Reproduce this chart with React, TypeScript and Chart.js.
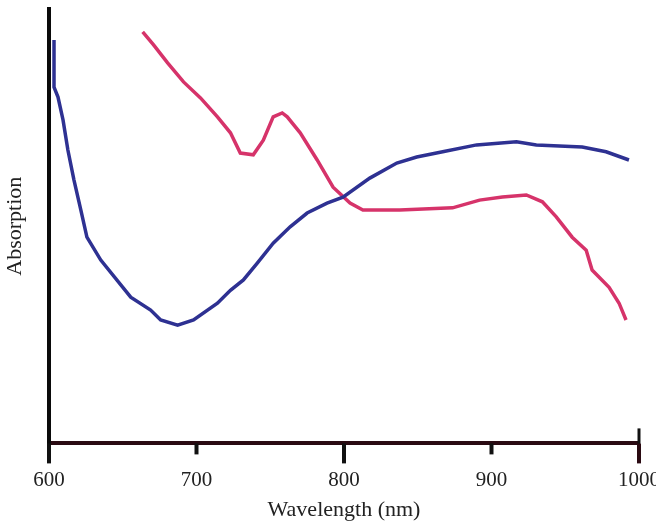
import React, { useEffect, useRef } from "react";
import { Chart, registerables } from "chart.js";

Chart.register(...registerables);

const xTickValues = [600, 700, 800, 900, 1000];
const longTicks = [600, 800, 1000];

const blueWavelength = [603.4, 603.4, 606.1, 609.5, 612.8, 616.9, 621.6, 625.7, 635.1, 655.4, 668.9, 675.7, 687.2, 698.0, 714.2, 723.0, 731.8, 741.2, 752.0, 763.5, 775.0, 788.5, 799.3, 817.5, 835.8, 849.3, 866.9, 889.9, 916.9, 930.4, 961.5, 977.7, 993.2];
const blueAbsorption = [93.0, 82.1, 79.8, 74.5, 67.5, 60.6, 53.6, 47.3, 42.0, 33.4, 30.4, 28.1, 26.9, 28.1, 32.0, 35.0, 37.4, 41.3, 45.9, 49.7, 52.9, 55.2, 56.6, 61.0, 64.5, 65.9, 67.1, 68.7, 69.4, 68.7, 68.2, 67.1, 65.2];

const redWavelength = [663.5, 670.9, 680.4, 691.2, 702.7, 714.2, 723.0, 729.7, 738.5, 745.3, 752.0, 758.1, 761.5, 770.3, 781.8, 792.6, 804.1, 812.8, 837.8, 873.6, 891.9, 907.4, 923.6, 934.5, 943.9, 954.7, 964.2, 968.2, 979.7, 986.5, 991.2];
const redAbsorption = [94.9, 91.9, 87.7, 83.3, 79.6, 75.2, 71.5, 66.8, 66.4, 69.8, 75.2, 76.1, 75.2, 71.5, 65.2, 58.9, 55.2, 53.6, 53.6, 54.1, 55.9, 56.6, 57.1, 55.5, 52.0, 47.3, 44.3, 39.7, 35.7, 32.0, 28.1];

const SERIF = "'Liberation Serif', 'Times New Roman', serif";

const axisTicksPlugin = {
  id: "axisTicks",
  afterDraw(chart: any) {
    const ctx = chart.ctx;
    const xs = chart.scales.x;
    const bottom = chart.chartArea.bottom;
    ctx.save();
    ctx.lineCap = "butt";
    xTickValues.forEach((v) => {
      const px = xs.getPixelForValue(v);
      const long = longTicks.includes(v);
      ctx.strokeStyle = v === 1000 ? "#2a0a12" : "#111111";
      ctx.lineWidth = 4;
      ctx.beginPath();
      ctx.moveTo(px, bottom);
      ctx.lineTo(px, bottom + (long ? 20 : 11));
      ctx.stroke();
    });
    const pEnd = xs.getPixelForValue(1000);
    ctx.strokeStyle = "#111111";
    ctx.lineWidth = 3;
    ctx.beginPath();
    ctx.moveTo(pEnd, bottom);
    ctx.lineTo(pEnd, bottom - 15);
    ctx.stroke();
    ctx.restore();
  },
};

export default function App() {
  const ref = useRef<HTMLCanvasElement | null>(null);
  useEffect(() => {
    document.body.style.margin = "0";
    const canvas = ref.current;
    if (!canvas) return;
    const chart = new Chart(canvas, {
      type: "line",
      data: {
        datasets: [
          {
            label: "Blue",
            data: blueWavelength.map((x, i) => ({ x, y: blueAbsorption[i] })),
            borderColor: "#2e3192",
            borderWidth: 3.5,
            pointRadius: 0,
            tension: 0,
          },
          {
            label: "Red",
            data: redWavelength.map((x, i) => ({ x, y: redAbsorption[i] })),
            borderColor: "#d6336a",
            borderWidth: 3.5,
            pointRadius: 0,
            tension: 0,
          },
        ],
      },
      options: {
        responsive: false,
        animation: false,
        devicePixelRatio: 1,
        layout: { padding: { top: 9, right: 17, bottom: 0, left: 0 } },
        plugins: { legend: { display: false }, tooltip: { enabled: false } },
        scales: {
          x: {
            type: "linear",
            min: 600,
            max: 1000,
            afterBuildTicks: (scale: any) => {
              scale.ticks = xTickValues.map((v) => ({ value: v }));
            },
            afterFit: (scale: any) => {
              scale.paddingLeft = 0;
              scale.paddingRight = 0;
            },
            ticks: {
              color: "#222222",
              font: { family: SERIF, size: 21 },
              padding: 4,
              maxRotation: 0,
              autoSkip: false,
              callback: (value: any) => String(value),
            },
            grid: {
              display: true,
              drawOnChartArea: false,
              drawTicks: true,
              tickLength: 20,
              tickColor: "rgba(0,0,0,0)",
            },
            border: { display: true, color: "#2a0a12", width: 4 },
            title: {
              display: true,
              text: "Wavelength (nm)",
              color: "#222222",
              font: { family: SERIF, size: 22 },
              padding: { top: 0, bottom: 0 },
            },
          },
          y: {
            type: "linear",
            min: -0.5,
            max: 100.2,
            ticks: { display: false },
            grid: { display: true, drawOnChartArea: false, drawTicks: false },
            border: { display: true, color: "#0a0a0a", width: 4 },
            title: {
              display: true,
              text: "Absorption",
              color: "#222222",
              font: { family: SERIF, size: 22 },
              padding: { top: 2, bottom: 20.6 },
            },
          },
        },
      },
      plugins: [axisTicksPlugin],
    });
    return () => chart.destroy();
  }, []);
  return (
    <div style={{ width: 656, height: 523, background: "#ffffff" }}>
      <canvas ref={ref} width={656} height={523} style={{ display: "block" }} />
    </div>
  );
}
